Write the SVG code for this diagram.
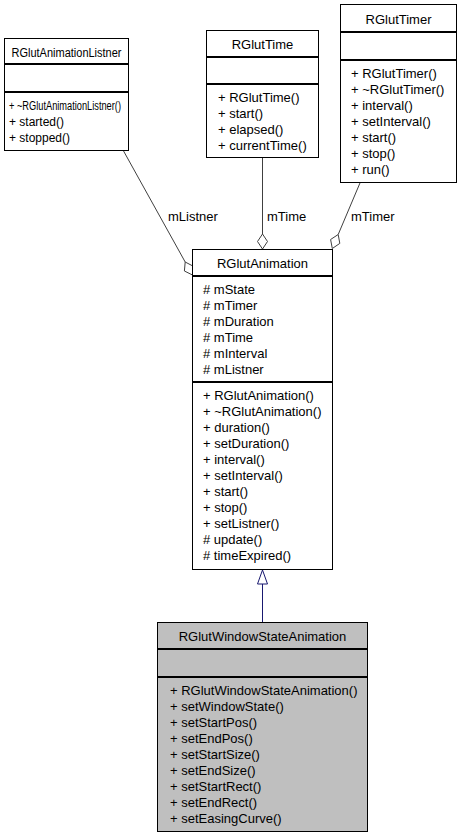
<svg xmlns="http://www.w3.org/2000/svg" width="461" height="837" viewBox="0 0 461 837">
  <style>
    text { font-family: "Liberation Sans", Arial, sans-serif; font-size: 13px; fill: #000; }
    .title { text-anchor: middle; }
    .small { font-size: 12px; }
    .box { fill: #fff; stroke: #000; stroke-width: 1; }
    .box.current { fill: #bfbfbf; }
    .div { stroke: #000; stroke-width: 2; }
    .assoc { fill: none; stroke: #404040; stroke-width: 1; }
    .diamond { fill: #fff; stroke: #404040; stroke-width: 1; }
    .inherit { fill: none; stroke: #191970; stroke-width: 1; }
    .tri { fill: #fff; stroke: #191970; stroke-width: 1; }
  </style>

  <!-- connectors -->
  <g id="edges">
    <!-- mListner aggregation -->
    <line class="assoc" x1="123" y1="150" x2="185.2" y2="262"/>
    <polygon class="diamond" points="185.2,262 193.2,266.2 192.5,275 184.4,271"/>
    <text x="168" y="220.5">mListner</text>
    <!-- mTime aggregation -->
    <line class="assoc" x1="262.5" y1="158" x2="262.5" y2="234"/>
    <polygon class="diamond" points="262.5,234 267.5,241.5 262.5,249 257.5,241.5"/>
    <text x="267" y="220.5">mTime</text>
    <!-- mTimer aggregation -->
    <line class="assoc" x1="360.4" y1="182" x2="338.2" y2="234.5"/>
    <polygon class="diamond" points="338.2,234.5 339.8,243.4 332.3,248.5 330.6,239.5"/>
    <text x="351" y="220.5">mTimer</text>
    <!-- inheritance -->
    <line class="inherit" x1="262.5" y1="622" x2="262.5" y2="584"/>
    <polygon class="tri" points="262.5,570 267.5,584 257.5,584"/>
  </g>

  <g id="RGlutAnimationListner">
    <rect class="box" x="4.5" y="38.5" width="124" height="112"/>
    <line class="div" x1="4" y1="64" x2="129" y2="64"/>
    <line class="div" x1="4" y1="92" x2="129" y2="92"/>
    <text class="title small" x="66.5" y="56.5" textLength="110" lengthAdjust="spacingAndGlyphs">RGlutAnimationListner</text>
    <text class="small" x="9" y="109.5" textLength="112" lengthAdjust="spacingAndGlyphs">+ ~RGlutAnimationListner()</text>
    <text class="small" x="9" y="125.5">+ started()</text>
    <text class="small" x="9" y="141.5">+ stopped()</text>
  </g>

  <g id="RGlutTime">
    <rect class="box" x="206.5" y="30.5" width="112" height="127"/>
    <line class="div" x1="206" y1="57" x2="319" y2="57"/>
    <line class="div" x1="206" y1="84" x2="319" y2="84"/>
    <text class="title" x="262.5" y="49">RGlutTime</text>
    <text x="218" y="101.5">+ RGlutTime()</text>
    <text x="218" y="117.5">+ start()</text>
    <text x="218" y="133.5">+ elapsed()</text>
    <text x="218" y="149.5">+ currentTime()</text>
  </g>

  <g id="RGlutTimer">
    <rect class="box" x="340.5" y="4.5" width="116" height="178"/>
    <line class="div" x1="340" y1="32" x2="457" y2="32"/>
    <line class="div" x1="340" y1="60" x2="457" y2="60"/>
    <text class="title" x="398.5" y="23.5">RGlutTimer</text>
    <text x="351" y="77.5">+ RGlutTimer()</text>
    <text x="351" y="93.5">+ ~RGlutTimer()</text>
    <text x="351" y="109.5">+ interval()</text>
    <text x="351" y="125.5">+ setInterval()</text>
    <text x="351" y="141.5">+ start()</text>
    <text x="351" y="157.5">+ stop()</text>
    <text x="351" y="173.5">+ run()</text>
  </g>

  <g id="RGlutAnimation">
    <rect class="box" x="192.5" y="249.5" width="140" height="320"/>
    <line class="div" x1="192" y1="276" x2="333" y2="276"/>
    <line class="div" x1="192" y1="382" x2="333" y2="382"/>
    <text class="title" x="262.5" y="268">RGlutAnimation</text>
    <text x="203" y="293.5"># mState</text>
    <text x="203" y="309.5"># mTimer</text>
    <text x="203" y="325.5"># mDuration</text>
    <text x="203" y="341.5"># mTime</text>
    <text x="203" y="357.5"># mInterval</text>
    <text x="203" y="373.5"># mListner</text>
    <text x="203" y="399.5">+ RGlutAnimation()</text>
    <text x="203" y="415.5">+ ~RGlutAnimation()</text>
    <text x="203" y="431.5">+ duration()</text>
    <text x="203" y="447.5">+ setDuration()</text>
    <text x="203" y="463.5">+ interval()</text>
    <text x="203" y="479.5">+ setInterval()</text>
    <text x="203" y="495.5">+ start()</text>
    <text x="203" y="511.5">+ stop()</text>
    <text x="203" y="527.5">+ setListner()</text>
    <text x="203" y="543.5"># update()</text>
    <text x="203" y="559.5"># timeExpired()</text>
  </g>

  <g id="RGlutWindowStateAnimation">
    <rect class="box current" x="157.5" y="622.5" width="210" height="209"/>
    <line class="div" x1="157" y1="649" x2="368" y2="649"/>
    <line class="div" x1="157" y1="677" x2="368" y2="677"/>
    <text class="title" x="262.5" y="641">RGlutWindowStateAnimation</text>
    <text x="170" y="694.5">+ RGlutWindowStateAnimation()</text>
    <text x="170" y="710.5">+ setWindowState()</text>
    <text x="170" y="726.5">+ setStartPos()</text>
    <text x="170" y="742.5">+ setEndPos()</text>
    <text x="170" y="758.5">+ setStartSize()</text>
    <text x="170" y="774.5">+ setEndSize()</text>
    <text x="170" y="790.5">+ setStartRect()</text>
    <text x="170" y="806.5">+ setEndRect()</text>
    <text x="170" y="822.5">+ setEasingCurve()</text>
  </g>
</svg>
